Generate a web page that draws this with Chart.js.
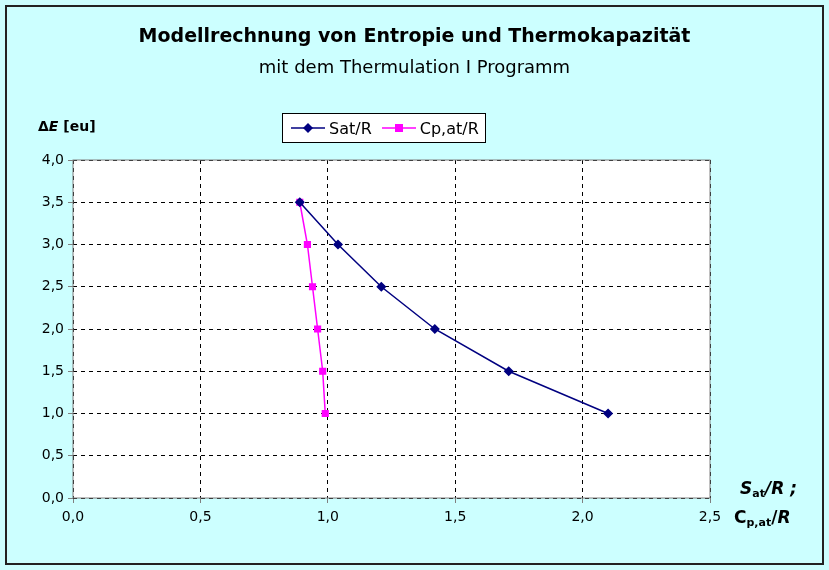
<!DOCTYPE html>
<html>
<head>
<meta charset="utf-8">
<script src="https://cdn.jsdelivr.net/npm/chart.js@4"></script>
<style>
  body { margin:0; background:#fff; font-family:"DejaVu Sans", Verdana, sans-serif; }
  #wrap { position:relative; width:829px; height:570px; }
  canvas { position:absolute; left:0; top:0; }
  .t { position:absolute; color:#000; white-space:nowrap; }
  sub { font-size:11px; vertical-align:-3px; }
</style>
</head>
<body>
<div id="wrap">
  <canvas id="c" width="829" height="570"></canvas>
  <div class="t" style="left:0;width:829px;top:24px;text-align:center;font-size:19px;font-weight:bold">Modellrechnung von Entropie und Thermokapazität</div>
  <div class="t" style="left:0;width:829px;top:56px;text-align:center;font-size:18px">mit dem Thermulation I Programm</div>
  <div class="t" style="left:38px;top:118px;font-size:14px;font-weight:bold">Δ<i>E</i> [eu]</div>
  <div class="t" style="left:740px;top:478px;font-size:17px;font-weight:bold;font-style:italic">S<sub style="font-style:normal">at</sub>/R ;</div>
  <div class="t" style="left:734px;top:507px;font-size:17px;font-weight:bold">C<sub>p,at</sub>/<i>R</i></div>
  <div class="t" style="left:282px;top:113px;height:28px;border:1px solid #000;background:#fff;font-size:16px;display:flex;align-items:center;padding:0 6px 0 6px">
    <svg width="38" height="12"><line x1="2" y1="6" x2="36" y2="6" stroke="#000080" stroke-width="1.5"/><polygon points="19,1 24,6 19,11 14,6" fill="#000080"/></svg>
    <span style="margin:0 8px 0 2px">Sat/R</span>
    <svg width="38" height="12"><line x1="2" y1="6" x2="36" y2="6" stroke="#ff00ff" stroke-width="1.5"/><rect x="15" y="2" width="8" height="8" fill="#ff00ff"/></svg>
    <span style="margin-left:2px">Cp,at/R</span>
  </div>
</div>
<script>
const energyLevels = [3.5, 3.0, 2.5, 2.0, 1.5, 1.0];
const satValues = [0.89, 1.04, 1.21, 1.42, 1.71, 2.10];
const cpValues = [0.89, 0.92, 0.94, 0.96, 0.98, 0.99];
const xTicks = [0, 0.5, 1.0, 1.5, 2.0, 2.5];
const yTicks = [0, 0.5, 1.0, 1.5, 2.0, 2.5, 3.0, 3.5, 4.0];

const fmt = v => v.toFixed(1).replace('.', ',');

const bgPlugin = {
  id: 'bg',
  beforeDraw(chart) {
    const ctx = chart.ctx, a = chart.chartArea;
    ctx.save();
    ctx.fillStyle = '#ccffff';
    ctx.fillRect(0, 0, chart.width, chart.height);
    ctx.strokeStyle = '#222';
    ctx.lineWidth = 2;
    ctx.strokeRect(6, 6, chart.width - 12, chart.height - 12);
    ctx.fillStyle = '#fff';
    ctx.fillRect(a.left, a.top, a.right - a.left, a.bottom - a.top);
    ctx.restore();
  },
  afterDatasetsDraw(chart) {},
  beforeDatasetsDraw(chart) {
    const ctx = chart.ctx, a = chart.chartArea;
    ctx.save();
    ctx.strokeStyle = '#808080';
    ctx.lineWidth = 1;
    ctx.strokeRect(a.left, a.top, a.right - a.left, a.bottom - a.top);
    ctx.restore();
  }
};

new Chart(document.getElementById('c'), {
  type: 'scatter',
  data: {
    datasets: [
      {
        label: 'Sat/R',
        data: satValues.map((x, i) => ({ x, y: energyLevels[i] })),
        showLine: true,
        borderColor: '#000080', backgroundColor: '#000080',
        borderWidth: 1.5, pointStyle: 'rectRot', pointRadius: 4
      },
      {
        label: 'Cp,at/R',
        data: cpValues.map((x, i) => ({ x, y: energyLevels[i] })),
        showLine: true,
        borderColor: '#ff00ff', backgroundColor: '#ff00ff',
        borderWidth: 1.5, pointStyle: 'rect', pointRadius: 4
      }
    ]
  },
  options: {
    responsive: false, animation: false,
    layout: { padding: { left: 0, top: 160, right: 119, bottom: 0 } },
    plugins: { legend: { display: false }, tooltip: { enabled: false } },
    scales: {
      x: {
        type: 'linear', min: 0, max: 2.5,
        afterBuildTicks: s => { s.ticks = xTicks.map(v => ({ value: v })); },
        afterFit: s => { s.height = 72; },
        border: { display: false, dash: [4, 4] },
        grid: { color: '#000', lineWidth: 1, tickLength: 5, tickColor: '#808080' },
        ticks: { color: '#000', font: { family: 'DejaVu Sans', size: 14 }, padding: 6, callback: fmt }
      },
      y: {
        type: 'linear', min: 0, max: 4,
        afterBuildTicks: s => { s.ticks = yTicks.map(v => ({ value: v })); },
        afterFit: s => { s.width = 73; },
        border: { display: false, dash: [4, 4] },
        grid: { color: '#000', lineWidth: 1, tickLength: 5, tickColor: '#808080' },
        ticks: { color: '#000', font: { family: 'DejaVu Sans', size: 14 }, padding: 4, callback: fmt }
      }
    }
  },
  plugins: [bgPlugin]
});
</script>
</body>
</html>
